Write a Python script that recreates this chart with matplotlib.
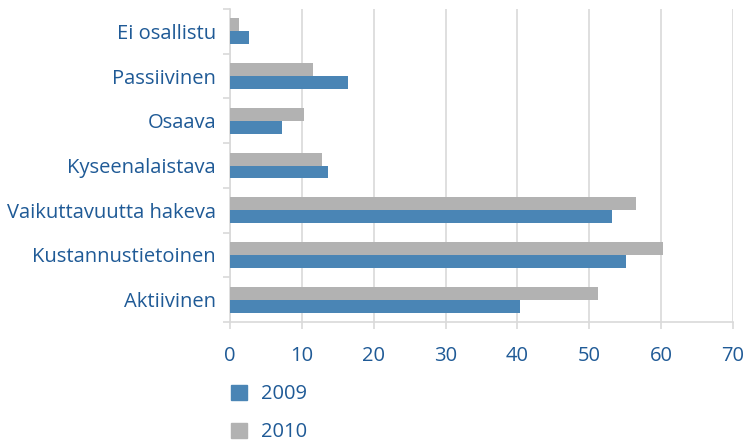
import matplotlib
matplotlib.use("Agg")
import matplotlib.pyplot as plt
import numpy as np
from matplotlib.patches import Patch

categories = ["Ei osallistu", "Passiivinen", "Osaava", "Kyseenalaistava",
              "Vaikuttavuutta hakeva", "Kustannustietoinen", "Aktiivinen"]
values_2009 = [2.7, 16.4, 7.3, 13.7, 53.1, 55.1, 40.3]
values_2010 = [1.2, 11.6, 10.3, 12.8, 56.5, 60.3, 51.2]
x_ticks = [0, 10, 20, 30, 40, 50, 60, 70]

BLUE = "#4a85b5"
GRAY = "#b2b2b2"
TEXT = "#1f5a96"
GRID = "#d9d9d9"

plt.rcParams["font.family"] = ["Open Sans", "DejaVu Sans"]
FS = 14.5

fig = plt.figure(figsize=(7.45, 4.44), dpi=100)
ax = fig.add_axes([230 / 745, 1 - 322 / 444, 503 / 745, 313 / 444])

n = len(categories)
y = np.arange(n)[::-1]
h = 0.29
ax.barh(y - h / 2, values_2009, h, color=BLUE, zorder=3)
ax.barh(y + h / 2, values_2010, h, color=GRAY, zorder=3)

ax.set_xlim(0, 70)
ax.set_ylim(-0.5, n - 0.5)
ax.set_xticks(x_ticks)
ax.set_xticklabels([str(t) for t in x_ticks])
ax.set_yticks(y)
ax.set_yticklabels(categories)
ax.set_yticks(np.arange(n + 1) - 0.5, minor=True)

ax.grid(True, axis="x", color=GRID, linewidth=1.2, zorder=0)
for side in ["top", "right"]:
    ax.spines[side].set_visible(False)
for side in ["left", "bottom"]:
    ax.spines[side].set_color(GRID)
    ax.spines[side].set_linewidth(1.2)

ax.tick_params(axis="y", which="major", length=0, pad=10, labelsize=FS, labelcolor=TEXT)
ax.tick_params(axis="y", which="minor", length=5, color=GRID, width=1.2)
ax.tick_params(axis="x", length=5, color=GRID, width=1.2, pad=12, labelsize=FS, labelcolor=TEXT)

handles = [Patch(color=BLUE, label="2009"), Patch(color=GRAY, label="2010")]
fig.legend(handles=handles, loc="upper left", bbox_to_anchor=(213 / 745, 1 - 366 / 444),
           frameon=False, fontsize=FS, labelcolor=TEXT, handlelength=0.78, handleheight=0.78,
           handletextpad=0.7, labelspacing=0.9)

fig.savefig("out.png", dpi=100)
